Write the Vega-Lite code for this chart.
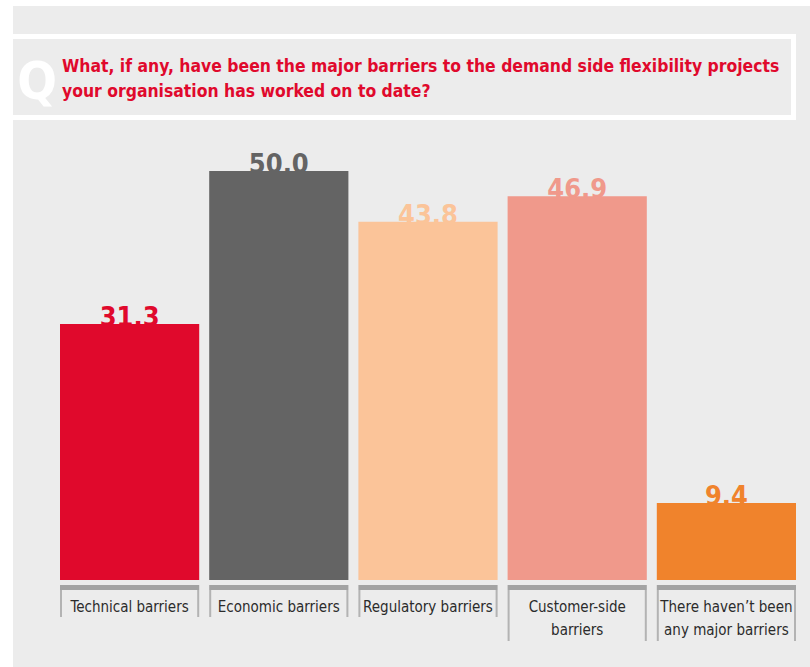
{
  "$schema": "https://vega.github.io/schema/vega-lite/v6.json",
  "width": 797,
  "height": 661,
  "padding": {"left": 13, "top": 6, "right": 0, "bottom": 0},
  "autosize": {"type": "none"},
  "background": "#ffffff",
  "view": {"fill": "#ececec", "stroke": null},
  "config": {"font": "'Liberation Sans Narrow', 'DejaVu Sans Condensed', Roboto, sans-serif"},
  "data": {
    "values": [
      {"cat": "Technical barriers", "value": 31.3, "lines": ["Technical barriers"]},
      {"cat": "Economic barriers", "value": 50.0, "lines": ["Economic barriers"]},
      {"cat": "Regulatory barriers", "value": 43.8, "lines": ["Regulatory barriers"]},
      {"cat": "Customer-side barriers", "value": 46.9, "lines": ["Customer-side", "barriers"]},
      {"cat": "There haven’t been any major barriers", "value": 9.4, "lines": ["There haven’t been", "any major barriers"]}
    ]
  },
  "encoding": {
    "x": {
      "field": "cat",
      "type": "nominal",
      "sort": null,
      "axis": null,
      "scale": {"range": [47, 783], "paddingInner": 0.067, "paddingOuter": 0}
    }
  },
  "layer": [
    {
      "data": {"values": [{}]},
      "mark": {"type": "rect", "fill": "#ffffff"},
      "encoding": {
        "x": {"value": 0}, "x2": {"value": 783},
        "y": {"value": 28}, "y2": {"value": 114}
      }
    },
    {
      "data": {"values": [{}]},
      "mark": {"type": "rect", "fill": "#ececec"},
      "encoding": {
        "x": {"value": 0}, "x2": {"value": 778},
        "y": {"value": 33}, "y2": {"value": 109}
      }
    },
    {
      "data": {"values": [{}]},
      "mark": {"type": "text", "text": "Q", "fontWeight": "bold", "fontSize": 52, "fill": "#ffffff", "align": "center", "baseline": "alphabetic"},
      "encoding": {"x": {"value": 24}, "y": {"value": 93}}
    },
    {
      "data": {"values": [{}]},
      "mark": {
        "type": "text",
        "text": ["What, if any, have been the major barriers to the demand side flexibility projects", "your organisation has worked on to date?"],
        "fontWeight": "bold", "fontSize": 17.4, "fill": "#e0092c",
        "align": "left", "baseline": "alphabetic", "lineHeight": 25
      },
      "encoding": {"x": {"value": 49}, "y": {"value": 66}}
    },
    {
      "mark": {"type": "text", "fontWeight": "bold", "fontSize": 27, "baseline": "alphabetic", "align": "center", "dy": 2},
      "encoding": {
        "y": {"field": "value", "type": "quantitative", "axis": null, "scale": {"domain": [0, 50], "range": [574, 165], "nice": false}},
        "text": {"field": "value", "type": "quantitative", "format": ".1f"},
        "color": {
          "field": "cat", "type": "nominal", "legend": null,
          "scale": {
            "domain": ["Technical barriers", "Economic barriers", "Regulatory barriers", "Customer-side barriers", "There haven’t been any major barriers"],
            "range": ["#e0092c", "#646464", "#fbc499", "#f0998b", "#f0832c"]
          }
        }
      }
    },
    {
      "mark": {"type": "bar"},
      "encoding": {
        "y": {"field": "value", "type": "quantitative", "axis": null, "scale": {"domain": [0, 50], "range": [574, 165], "nice": false}},
        "color": {
          "field": "cat", "type": "nominal", "legend": null,
          "scale": {
            "domain": ["Technical barriers", "Economic barriers", "Regulatory barriers", "Customer-side barriers", "There haven’t been any major barriers"],
            "range": ["#e0092c", "#646464", "#fbc499", "#f0998b", "#f0832c"]
          }
        }
      }
    },
    {
      "mark": {"type": "rect", "fill": "#a3a3a3"},
      "encoding": {"y": {"value": 579}, "y2": {"value": 584}}
    },
    {
      "transform": [{"filter": "length(datum.lines) == 1"}],
      "mark": {"type": "rule", "stroke": "#b3b3b3", "strokeWidth": 2, "xOffset": 1},
      "encoding": {"x": {"field": "cat", "type": "nominal", "sort": null, "bandPosition": 0}, "y": {"value": 584}, "y2": {"value": 611}}
    },
    {
      "transform": [{"filter": "length(datum.lines) == 1"}],
      "mark": {"type": "rule", "stroke": "#b3b3b3", "strokeWidth": 2, "xOffset": -1},
      "encoding": {"x": {"field": "cat", "type": "nominal", "sort": null, "bandPosition": 1}, "y": {"value": 584}, "y2": {"value": 611}}
    },
    {
      "transform": [{"filter": "length(datum.lines) == 2"}],
      "mark": {"type": "rule", "stroke": "#b3b3b3", "strokeWidth": 2, "xOffset": 1},
      "encoding": {"x": {"field": "cat", "type": "nominal", "sort": null, "bandPosition": 0}, "y": {"value": 584}, "y2": {"value": 635}}
    },
    {
      "transform": [{"filter": "length(datum.lines) == 2"}],
      "mark": {"type": "rule", "stroke": "#b3b3b3", "strokeWidth": 2, "xOffset": -1},
      "encoding": {"x": {"field": "cat", "type": "nominal", "sort": null, "bandPosition": 1}, "y": {"value": 584}, "y2": {"value": 635}}
    },
    {
      "mark": {"type": "text", "fontSize": 15, "fill": "#2b2b2b", "align": "center", "baseline": "alphabetic", "lineHeight": 23},
      "encoding": {"y": {"value": 606}, "text": {"field": "lines"}}
    }
  ]
}
